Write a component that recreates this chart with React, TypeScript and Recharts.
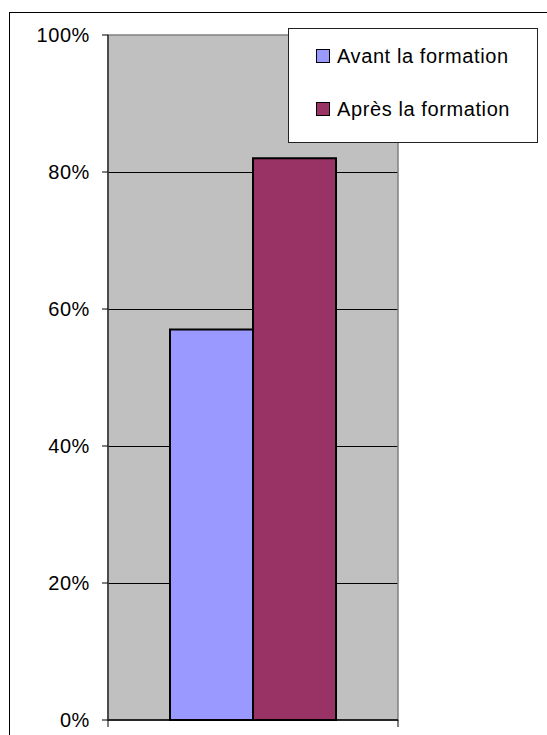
import React from 'react';
import { BarChart, Bar, XAxis, YAxis, CartesianGrid, ReferenceArea, Legend } from 'recharts';

const categories = ['Formation'];
const avantValues = [57];
const apresValues = [82];
const yTicks = [0, 20, 40, 60, 80, 100];
const gridValues = [20, 40, 60, 80];
const seriesNames = ['Avant la formation', 'Après la formation'];
const seriesColors = ['#9999FF', '#993366'];

const data = categories.map((c, i) => ({ name: c, avant: avantValues[i], apres: apresValues[i] }));

const FONT = '"Liberation Sans", Arial, sans-serif';
const CHART_W = 547;
const CHART_H = 735;
const MARGIN = { top: 35, right: 149, left: 0, bottom: 0 };
const Y_AXIS_W = 108;
const PLOT_W = CHART_W - MARGIN.left - MARGIN.right - Y_AXIS_W;
const BAND_W = PLOT_W / categories.length;

const EdgeTick = (props: any) => {
  const { x, y } = props;
  const half = BAND_W / 2;
  return (
    <g>
      <line x1={x - half} x2={x - half} y1={y} y2={y + 7} stroke="#000" strokeWidth={1} />
      <line x1={x + half} x2={x + half} y1={y} y2={y + 7} stroke="#000" strokeWidth={1} />
    </g>
  );
};

const LegendBox = () => (
  <div
    style={{
      boxSizing: 'border-box',
      width: 250,
      height: 115,
      border: '1px solid #222',
      background: '#fff',
      position: 'relative',
      fontFamily: FONT,
      fontSize: 20,
      letterSpacing: 0.6,
      color: '#000',
    }}
  >
    {seriesNames.map((n, i) => (
      <div
        key={n}
        style={{
          position: 'absolute',
          left: 27,
          top: 15 + i * 53,
          height: 24,
          display: 'flex',
          alignItems: 'center',
          whiteSpace: 'nowrap',
        }}
      >
        <span
          style={{
            display: 'inline-block',
            boxSizing: 'border-box',
            width: 14,
            height: 14,
            background: seriesColors[i],
            border: '1.5px solid #000',
            marginRight: 7,
          }}
        />
        <span>{n}</span>
      </div>
    ))}
  </div>
);

export default function App() {
  return (
    <div style={{ position: 'absolute', left: 0, top: 0, width: CHART_W, height: CHART_H, overflow: 'hidden', background: '#fff' }}>
      <div
        style={{
          position: 'absolute',
          left: 9,
          top: 12,
          width: 800,
          height: 900,
          border: '1px solid #000',
        }}
      />
      <div style={{ position: 'absolute', left: 0, top: 0 }}>
        <BarChart
          width={CHART_W}
          height={CHART_H}
          data={data}
          margin={MARGIN}
          barCategoryGap={62}
          barGap={0}
        >
          <CartesianGrid
            fill="#C0C0C0"
            vertical={false}
            horizontalValues={gridValues}
            stroke="#000"
            strokeWidth={1}
            shapeRendering="crispEdges"
          />
          <ReferenceArea y1={0} y2={100} fill="none" stroke="#808080" strokeWidth={1.5} ifOverflow="visible" />
          <XAxis
            dataKey="name"
            height={15}
            tickSize={0}
            tickMargin={0}
            tick={<EdgeTick />}
            axisLine={{ stroke: '#000', strokeWidth: 1.5 }}
            tickLine={false}
          />
          <YAxis
            width={Y_AXIS_W}
            domain={[0, 100]}
            ticks={yTicks}
            interval={0}
            tickFormatter={(v) => `${v}%`}
            tickSize={6}
            tickMargin={12}
            axisLine={{ stroke: '#333', strokeWidth: 1.5 }}
            tickLine={{ stroke: '#000' }}
            tick={{ fill: '#000', fontSize: 20, fontFamily: FONT, style: { letterSpacing: 0.6 } }}
          />
          <Bar dataKey="avant" name={seriesNames[0]} fill={seriesColors[0]} stroke="#000" strokeWidth={2} isAnimationActive={false} />
          <Bar dataKey="apres" name={seriesNames[1]} fill={seriesColors[1]} stroke="#000" strokeWidth={2} isAnimationActive={false} />
          <Legend
            layout="vertical"
            align="center"
            verticalAlign="middle"
            content={() => <LegendBox />}
            wrapperStyle={{ left: 288, top: 28, width: 250, height: 115 }}
          />
        </BarChart>
      </div>
    </div>
  );
}
